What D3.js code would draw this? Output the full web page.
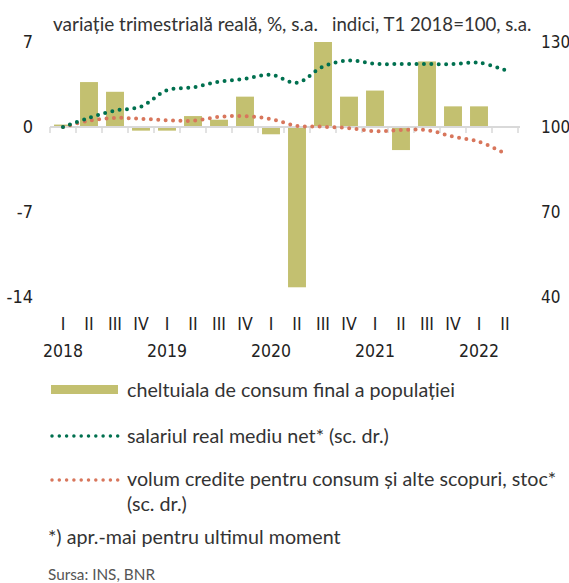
<!DOCTYPE html>
<meta charset="utf-8">
<head>
<script src="https://cdn.jsdelivr.net/npm/d3@7"></script>
<style>
body { margin: 0; background: #fff; }
text { fill: #333; font-family: Lato, "Open Sans", sans-serif; }
.num { font-family: "Liberation Sans Narrow", "DejaVu Sans Condensed", sans-serif; font-size: 18px; fill: #222; }
.qtr { font-family: "Liberation Sans Narrow", "DejaVu Sans Condensed", sans-serif; font-size: 17.5px; fill: #222; }
.leg { font-size: 19.7px; }
</style>
</head>
<body>
<script>

// date
var quarters = ["I","II","III","IV","I","II","III","IV","I","II","III","IV","I","II","III","IV","I","II"];
var years = ["2018","2019","2020","2021","2022"];
var consum = [0.2, 3.7, 2.9, -0.3, -0.3, 0.9, 0.6, 2.5, -0.6, -13.2, 7.0, 2.5, 3.0, -1.9, 5.4, 1.7, 1.7, null];
var salariu = [100, 103.2, 105.8, 107.2, 113, 114, 116, 117, 118.4, 115.6, 121.3, 123.5, 122.3, 122.2, 122.2, 122.2, 122.7, 120.1];
var credite = [100, 102.2, 103.2, 102.9, 102.4, 102.2, 103.6, 103.8, 102.8, 100.4, 100.1, 99.6, 98.5, 98.9, 98.9, 96.6, 94.8, 90.7];
var leftTicks = [7, 0, -7, -14];
var rightTicks = [130, 100, 70, 40];

var width = 569, height = 583;

var svg = d3.select("body").append("svg")
    .attr("width", width)
    .attr("height", height);

var x = d3.scaleBand()
    .domain(d3.range(quarters.length))
    .range([50, 518])
    .paddingInner(0.31)
    .paddingOuter(0.155);

var xc = function(i) { return 50 + (468 / quarters.length) * (i + 0.5); };

var yL = d3.scaleLinear().domain([-14, 7]).range([297, 42]);
var yR = d3.scaleLinear().domain([40, 130]).range([297, 42]);

// titlu
svg.append("text").attr("x", 53).attr("y", 31).style("font-size", "19px")
    .text("variație trimestrială reală, %, s.a.");
svg.append("text").attr("x", 332).attr("y", 31).style("font-size", "18.6px")
    .text("indici, T1 2018=100, s.a.");

// bare
svg.selectAll(".bar")
    .data(consum.map(function(v, i) { return {v: v, i: i}; }).filter(function(d) { return d.v !== null; }))
  .enter().append("rect")
    .attr("class", "bar")
    .attr("x", function(d) { return x(d.i); })
    .attr("width", x.bandwidth())
    .attr("y", function(d) { return yL(Math.max(0, d.v)); })
    .attr("height", function(d) { return Math.abs(yL(d.v) - yL(0)); })
    .attr("fill", "#c3c070");

// axa x
var axisG = svg.append("g").attr("transform", "translate(0," + yL(0) + ")");
axisG.append("line").attr("x1", 50).attr("x2", 520).attr("y1", 0).attr("y2", 0)
    .attr("stroke", "#d9d9d9").attr("stroke-width", 2);
axisG.selectAll(".tk")
    .data(d3.range(quarters.length + 1))
  .enter().append("line")
    .attr("x1", function(i) { return 50 + (468 / quarters.length) * i; })
    .attr("x2", function(i) { return 50 + (468 / quarters.length) * i; })
    .attr("y1", 0).attr("y2", 6)
    .attr("stroke", "#d9d9d9").attr("stroke-width", 1.5);

// linii punctate
var line = function(yS) {
  return d3.line()
    .x(function(d, i) { return xc(i); })
    .y(function(d) { return yS(d); })
    .curve(d3.curveCatmullRom.alpha(0.5));
};

svg.append("path").datum(credite)
    .attr("d", line(yR))
    .attr("fill", "none").attr("stroke", "#d8765c")
    .attr("stroke-width", 4).attr("stroke-linecap", "round")
    .attr("stroke-dasharray", "0 7.4");

svg.append("path").datum(salariu)
    .attr("d", line(yR))
    .attr("fill", "none").attr("stroke", "#00704f")
    .attr("stroke-width", 4).attr("stroke-linecap", "round")
    .attr("stroke-dasharray", "0 7.4");

// etichete axe
svg.selectAll(".lt").data(leftTicks).enter().append("text")
    .attr("class", "num")
    .attr("x", 33).attr("y", function(d) { return yL(d); })
    .attr("dy", "0.35em").attr("text-anchor", "end")
    .text(function(d) { return d; });

svg.selectAll(".rt").data(rightTicks).enter().append("text")
    .attr("class", "num")
    .attr("x", 541).attr("y", function(d) { return yR(d); })
    .attr("dy", "0.35em")
    .style("font-size", "17px")
    .text(function(d) { return d; });

svg.selectAll(".q").data(quarters).enter().append("text")
    .attr("class", "qtr")
    .attr("x", function(d, i) { return xc(i); })
    .attr("y", 330).attr("text-anchor", "middle")
    .text(function(d) { return d; });

svg.selectAll(".yr").data(years).enter().append("text")
    .attr("class", "qtr")
    .attr("x", function(d, i) { return xc(i * 4); })
    .attr("y", 357).attr("text-anchor", "middle")
    .text(function(d) { return d; });

// legenda
var leg = svg.append("g");
leg.append("rect").attr("x", 51).attr("y", 385).attr("width", 67).attr("height", 9).attr("fill", "#c3c070");
leg.append("text").attr("class", "leg").attr("x", 127).attr("y", 397)
    .text("cheltuiala de consum final a populației");

leg.append("line").attr("x1", 52).attr("x2", 118).attr("y1", 436).attr("y2", 436)
    .attr("stroke", "#00704f").attr("stroke-width", 3.5).attr("stroke-linecap", "round")
    .attr("stroke-dasharray", "0 7.3");
leg.append("text").attr("class", "leg").attr("x", 127).attr("y", 443)
    .text("salariul real mediu net* (sc. dr.)");

leg.append("line").attr("x1", 52).attr("x2", 118).attr("y1", 480).attr("y2", 480)
    .attr("stroke", "#d8765c").attr("stroke-width", 3.5).attr("stroke-linecap", "round")
    .attr("stroke-dasharray", "0 7.3");
leg.append("text").attr("class", "leg").attr("x", 127).attr("y", 486)
    .text("volum credite pentru consum și alte scopuri, stoc*");
leg.append("text").attr("class", "leg").attr("x", 127).attr("y", 511)
    .text("(sc. dr.)");

leg.append("text").attr("class", "leg").attr("x", 48).attr("y", 544)
    .text("*) apr.-mai pentru ultimul moment");
leg.append("text").attr("x", 48).attr("y", 580).style("font-size", "15.3px").style("fill", "#555")
    .text("Sursa: INS, BNR");

</script>
</body>
